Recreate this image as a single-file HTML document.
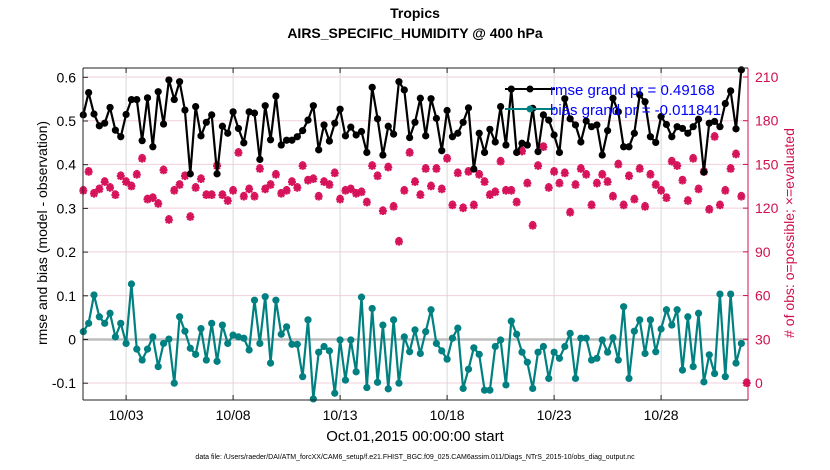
<!DOCTYPE html>
<html><head><meta charset="utf-8"><style>
body{margin:0;background:#fff;}
svg{display:block;font-family:"Liberation Sans",sans-serif;}
</style></head><body>
<svg id="chart" width="830" height="470" viewBox="0 0 830 470">
<text x="415" y="18" text-anchor="middle" font-size="14" font-weight="bold">Tropics</text>
<text x="415" y="38" text-anchor="middle" font-size="14" font-weight="bold">AIRS_SPECIFIC_HUMIDITY @ 400 hPa</text>
<g id="grid"></g><g id="series"></g><g id="axes"></g>
<text transform="translate(47,233) rotate(-90)" text-anchor="middle" font-size="14">rmse and bias (model - observation)</text>
<text transform="translate(794,233) rotate(-90)" text-anchor="middle" font-size="14" fill="#d0104c"># of obs: o=possible; ×=evaluated</text>
<text x="415" y="441" text-anchor="middle" font-size="15">Oct.01,2015 00:00:00 start</text>
<text x="415" y="459" text-anchor="middle" font-size="7">data file: /Users/raeder/DAI/ATM_forcXX/CAM6_setup/f.e21.FHIST_BGC.f09_025.CAM6assim.011/Diags_NTrS_2015-10/obs_diag_output.nc</text>
<g>
<line x1="505" y1="89" x2="555" y2="89" stroke="#000" stroke-width="2"/><circle cx="530" cy="89" r="3.5" fill="#000"/>
<text x="550" y="95" font-size="15" fill="#0000ff">rmse grand pr = 0.49168</text>
<line x1="505" y1="109" x2="555" y2="109" stroke="#008080" stroke-width="2"/><circle cx="530" cy="109" r="3.5" fill="#008080"/>
<text x="550" y="115" font-size="15" fill="#0000ff">bias grand pr = -0.011841</text>
</g>
</svg>
<script>
const rmse=[0.514,0.565,0.516,0.489,0.495,0.531,0.479,0.464,0.515,0.549,0.549,0.455,0.553,0.441,0.567,0.493,0.594,0.549,0.59,0.525,0.379,0.533,0.466,0.497,0.514,0.379,0.488,0.472,0.521,0.483,0.45,0.521,
0.518,0.412,0.535,0.457,0.557,0.445,0.456,0.456,0.464,0.478,0.502,0.535,0.434,0.491,0.454,0.495,0.527,0.466,0.486,0.468,0.476,0.428,0.577,0.505,0.422,0.488,0.47,0.59,0.571,0.462,
0.497,0.552,0.466,0.551,0.506,0.432,0.524,0.464,0.472,0.497,0.53,0.39,0.472,0.428,0.481,0.452,0.533,0.445,0.573,0.428,0.449,0.445,0.529,0.43,0.514,0.502,0.468,0.428,0.551,0.505,0.491,0.452,
0.5,0.487,0.491,0.422,0.478,0.552,0.521,0.441,0.441,0.472,0.56,0.544,0.464,0.451,0.51,0.492,0.464,0.487,0.483,0.472,0.487,0.504,0.383,0.495,0.499,0.487,0.54,0.569,0.482,0.617,NaN];
const bias=[0.018,0.037,0.102,0.052,0.037,0.06,0.006,0.037,-0.009,0.127,-0.022,-0.047,-0.022,0.006,-0.062,-0.009,0.001,-0.1,0.052,0.019,-0.02,-0.034,0.025,-0.047,0.037,-0.05,0.033,-0.009,0.01,0.006,0.003,-0.024,
0.09,-0.009,0.098,-0.054,0.09,0.012,0.029,-0.011,-0.011,-0.085,0.045,-0.136,-0.029,-0.016,-0.026,-0.123,-0.001,-0.093,-0.001,-0.074,0.097,-0.11,0.071,-0.098,0.033,-0.113,0.045,-0.1,0.006,-0.028,
0.022,-0.032,0.018,0.068,-0.009,-0.026,-0.045,0.003,0.026,-0.112,-0.068,-0.019,-0.034,-0.116,-0.116,-0.016,-0.001,-0.104,0.042,0.012,-0.029,-0.052,-0.112,-0.029,-0.016,-0.089,-0.029,-0.043,-0.016,0.014,-0.089,0.003,
0.003,-0.047,-0.043,-0.001,-0.029,0.004,-0.047,0.075,-0.089,0.019,0.045,-0.032,0.045,-0.028,0.024,0.068,0.033,0.068,-0.07,0.052,-0.062,0.06,-0.097,-0.035,-0.078,0.104,-0.085,0.104,-0.054,-0.009,NaN];
const obsCount=[132,145,130,133,138,134,129,142,138,135,143,154,126,127,123,146,112,132,136,142,114,134,140,129,129,149,129,125,132,158,128,133,
128,147,133,136,143,130,132,138,134,149,139,140,128,138,136,144,126,132,133,130,131,124,149,142,118,148,121,97,132,158,
138,129,147,135,147,133,154,122,144,120,145,122,143,138,129,131,152,132,132,124,159,137,108,149,162,134,145,137,144,117,136,147,
143,122,137,143,138,128,150,122,142,126,147,121,143,136,132,127,152,149,139,125,154,133,145,119,169,122,132,147,157,128,0];
const xTickDays=[2,7,12,17,22,27];
const xTickLabels=["10/03","10/08","10/13","10/18","10/23","10/28"];
const yLeftTicks=[-0.1,0,0.1,0.2,0.3,0.4,0.5,0.6];
const yRightTicks=[0,30,60,90,120,150,180,210];
const stepDays=0.25;

const L=83,R=748,T=68,B=400;
const xS=d=>83.3+d*21.4;
const yL=v=>339.5-v*437;
const yR=c=>383-c*(306/210);
const NS="http://www.w3.org/2000/svg";
function mk(parent,tag,attrs){const e=document.createElementNS(NS,tag);for(const k in attrs)e.setAttribute(k,attrs[k]);parent.appendChild(e);return e;}
const grid=document.getElementById('grid'),ser=document.getElementById('series'),ax=document.getElementById('axes');
mk(grid,'rect',{x:L,y:T,width:R-L,height:B-T,fill:'#fff'});
yRightTicks.forEach(c=>{const l=mk(grid,'line',{x1:L,x2:R,y1:yR(c),y2:yR(c),stroke:'#f2cfdc','stroke-width':1});

});
xTickDays.forEach((d,i)=>{const l=mk(grid,'line',{x1:xS(d),x2:xS(d),y1:T,y2:B,stroke:'#d8d8d8','stroke-width':1});


const t=mk(ax,'text',{x:xS(d),y:B+20,'text-anchor':'middle','font-size':14});t.textContent=xTickLabels[i];


mk(ax,'line',{x1:xS(d),x2:xS(d),y1:B,y2:B-5,stroke:'#222'});mk(ax,'line',{x1:xS(d),x2:xS(d),y1:T,y2:T+5,stroke:'#222'});});
const zl=mk(grid,'line',{x1:L,x2:R,y1:yL(0),y2:yL(0),stroke:'#bdbdbd','stroke-width':2.5});


// obs markers
obsCount.forEach((c,i)=>{const x=xS(i*stepDays),y=yR(c);
const g=mk(ser,'g',{});


mk(g,'circle',{cx:x,cy:y-1.5,r:2.6,fill:'none',stroke:'#d6125a','stroke-width':1.3});
mk(g,'path',{d:`M${x-4} ${y}H${x+4}M${x} ${y-4}V${y+4}M${x-3} ${y-3}L${x+3} ${y+3}M${x-3} ${y+3}L${x+3} ${y-3}`,stroke:'#d6125a','stroke-width':2.2});});
function line(arr,color,name){let d='';let pen=false;
arr.forEach((v,i)=>{if(isNaN(v)){pen=false;return;}d+=(pen?'L':'M')+xS(i*stepDays).toFixed(1)+' '+yL(v).toFixed(1);pen=true;});
const p=mk(ser,'path',{d:d,fill:'none',stroke:color,'stroke-width':2.2,'stroke-linejoin':'round'});


arr.forEach((v,i)=>{if(isNaN(v))return;const c=mk(ser,'circle',{cx:xS(i*stepDays),cy:yL(v),r:3.6,fill:color});

});}
line(rmse,'#000','rmse');line(bias,'#008080','bias');
// axes
mk(ax,'line',{x1:L,x2:R,y1:T,y2:T,stroke:'#222'});mk(ax,'line',{x1:L,x2:R,y1:B,y2:B,stroke:'#222'});
mk(ax,'line',{x1:L,x2:L,y1:T,y2:B,stroke:'#222'});mk(ax,'line',{x1:R,x2:R,y1:T,y2:B,stroke:'#d0104c'});
yLeftTicks.forEach(v=>{mk(ax,'line',{x1:L,x2:L+5,y1:yL(v),y2:yL(v),stroke:'#222'});
const t=mk(ax,'text',{x:L-7,y:yL(v)+5,'text-anchor':'end','font-size':14});t.textContent=v===0?'0':v.toFixed(1);

});
yRightTicks.forEach(c=>{mk(ax,'line',{x1:R,x2:R-5,y1:yR(c),y2:yR(c),stroke:'#d0104c'});
const t=mk(ax,'text',{x:R+7,y:yR(c)+5,'font-size':14,fill:'#d0104c'});t.textContent=c;

});
</script>
</body></html>
